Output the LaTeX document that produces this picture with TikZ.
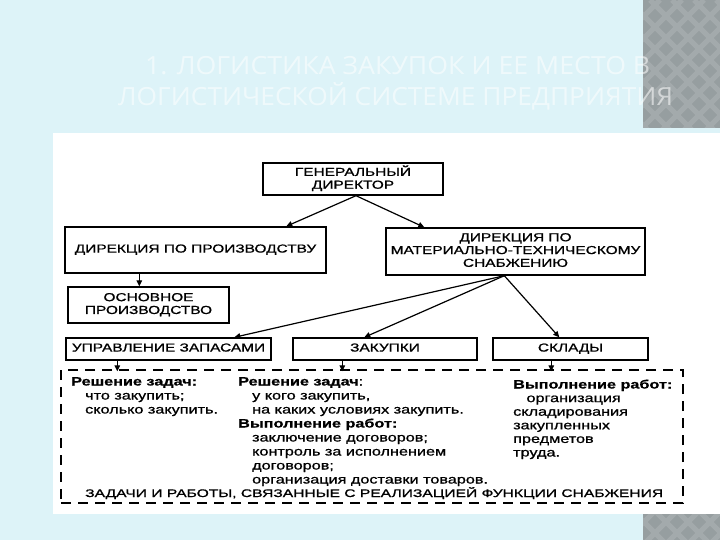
\documentclass[tikz,border=0pt]{standalone}
\usepackage{fontspec}
\setmainfont{Liberation Sans}[UprightFeatures={FakeBold=0.8},BoldFeatures={FakeBold=0.6}]
\newfontfamily\titlefont{Open Sans}
\usetikzlibrary{calc,arrows.meta}
\definecolor{bgc}{RGB}{221,243,248}
\definecolor{stripc}{RGB}{150,158,160}
\definecolor{stripl}{RGB}{163,170,172}
\newcommand{\wc}[1]{\scalebox{1.33}[1]{\begin{tabular}{@{}c@{}}#1\end{tabular}}}
\newcommand{\wl}[1]{\scalebox{1.33}[1]{\begin{tabular}[t]{@{}l@{}}#1\end{tabular}}}
\newcommand{\ind}{\hspace*{10.5pt}}
\begin{document}
\begin{tikzpicture}[x=1pt,y=-1pt,
  box/.style={draw=black,line width=1.4pt,fill=white,inner sep=0pt,
    font=\fontsize{11.6}{12.8}\selectfont},
  arr/.style={-{Triangle[length=6pt,width=5.5pt]},line width=1.2pt},
  body/.style={inner sep=0pt,anchor=base west,font=\fontsize{12.2}{14}\selectfont},
  titletext/.style={inner sep=0pt,anchor=base west,text=white,text opacity=0.55}]
\useasboundingbox (0,0) rectangle (720,540);
% background
\fill[bgc] (0,0) rectangle (720,540);
\begin{scope}
  \clip (643,0) rectangle (720,128) (643,514) rectangle (720,540);
  \fill[stripc] (643,0) rectangle (720,540);
  \foreach \i in {0,22,...,1320} {
    \draw[stripl,line width=5pt] (\i,0) -- ++(-560,560);
    \draw[stripl,line width=5pt] (\i-560,0) -- ++(560,560);
  }
\end{scope}
\fill[white] (53,133) rectangle (720,514);
% title
\node[titletext] (t1) at (145,75) {\titlefont\fontsize{25}{25}\selectfont\resizebox{505pt}{\height}{1. ЛОГИСТИКА ЗАКУПОК И ЕЕ МЕСТО В}};
\node[titletext] (t2) at (118,106) {\titlefont\fontsize{25}{25}\selectfont\resizebox{555pt}{\height}{ЛОГИСТИЧЕСКОЙ СИСТЕМЕ ПРЕДПРИЯТИЯ}};
% boxes
\node[box,minimum width=180pt,minimum height=32pt] (gd) at (353,179) {\wc{ГЕНЕРАЛЬНЫЙ\\ДИРЕКТОР}};
\node[box,minimum width=261pt,minimum height=46pt] (dp) at (195.5,250) {\wc{ДИРЕКЦИЯ ПО ПРОИЗВОДСТВУ}};
\node[box,minimum width=259pt,minimum height=47pt] (dm) at (515.5,251.5) {\wc{ДИРЕКЦИЯ ПО\\МАТЕРИАЛЬНО-ТЕХНИЧЕСКОМУ\\СНАБЖЕНИЮ}};
\node[box,minimum width=161pt,minimum height=36pt] (osn) at (148.5,305) {\wc{ОСНОВНОЕ\\ПРОИЗВОДСТВО}};
\node[box,minimum width=205pt,minimum height=22pt] (uz) at (168.5,349) {\wc{УПРАВЛЕНИЕ ЗАПАСАМИ}};
\node[box,minimum width=184pt,minimum height=22pt] (zak) at (385,349) {\wc{ЗАКУПКИ}};
\node[box,minimum width=155pt,minimum height=22pt] (skl) at (570.5,349) {\wc{СКЛАДЫ}};
\node[draw=black,line width=1.4pt,dash pattern=on 10pt off 7pt,inner sep=0pt,
  minimum width=622pt,minimum height=133pt] (tasks) at (372,436.5) {};
% texts in dashed box
\node[body] (c1) at (71,385.5) {\wl{\textbf{Решение задач:}\\\ind что закупить;\\\ind сколько закупить.}};
\node[body] (c2) at (238,385.5) {\wl{\textbf{Решение задач}:\\\ind у кого закупить,\\\ind на каких условиях закупить.\\\textbf{Выполнение работ:}\\\ind заключение договоров;\\\ind контроль за исполнением\\\ind договоров;\\\ind организация доставки товаров.}};
\node[body,font=\fontsize{12.2}{13.6}\selectfont] (c3) at (513,388.5) {\wl{\textbf{Выполнение работ:}\\\hspace*{10pt}организация\\складирования\\закупленных\\предметов\\труда.}};
\node[inner sep=0pt,anchor=base west,font=\fontsize{11}{12}\selectfont] (foot) at (85,497) {\resizebox{578pt}{\height}{ЗАДАЧИ И РАБОТЫ, СВЯЗАННЫЕ С РЕАЛИЗАЦИЕЙ ФУНКЦИИ СНАБЖЕНИЯ}};
% connectors
\coordinate (gdo) at ($(gd.south)+(3,0)$);
\draw[arr] (gdo) -- ($(dp.north west)+(222,0)$);
\draw[arr] (gdo) -- ($(dm.north west)+(39,0)$);
\draw[arr] ($(dp.south west)+(75,0)$) -- ($(osn.north west)+(72,0)$);
\coordinate (dmo) at ($(dm.south west)+(119,0)$);
\draw[arr] (dmo) -- ($(uz.north west)+(169,0)$);
\draw[arr] (dmo) -- ($(zak.north west)+(72,0)$);
\draw[arr] (dmo) -- ($(skl.north west)+(67,0)$);
\coordinate (uzo) at ($(uz.south west)+(52,0)$);
\coordinate (zako) at ($(zak.south west)+(50,0)$);
\coordinate (sklo) at ($(skl.south west)+(59,0)$);
\draw[arr,shorten >=-2pt] (uzo) -- (uzo |- tasks.north);
\draw[arr,shorten >=-2pt] (zako) -- (zako |- tasks.north);
\draw[arr,shorten >=-2pt] (sklo) -- (sklo |- tasks.north);
\end{tikzpicture}
\end{document}
